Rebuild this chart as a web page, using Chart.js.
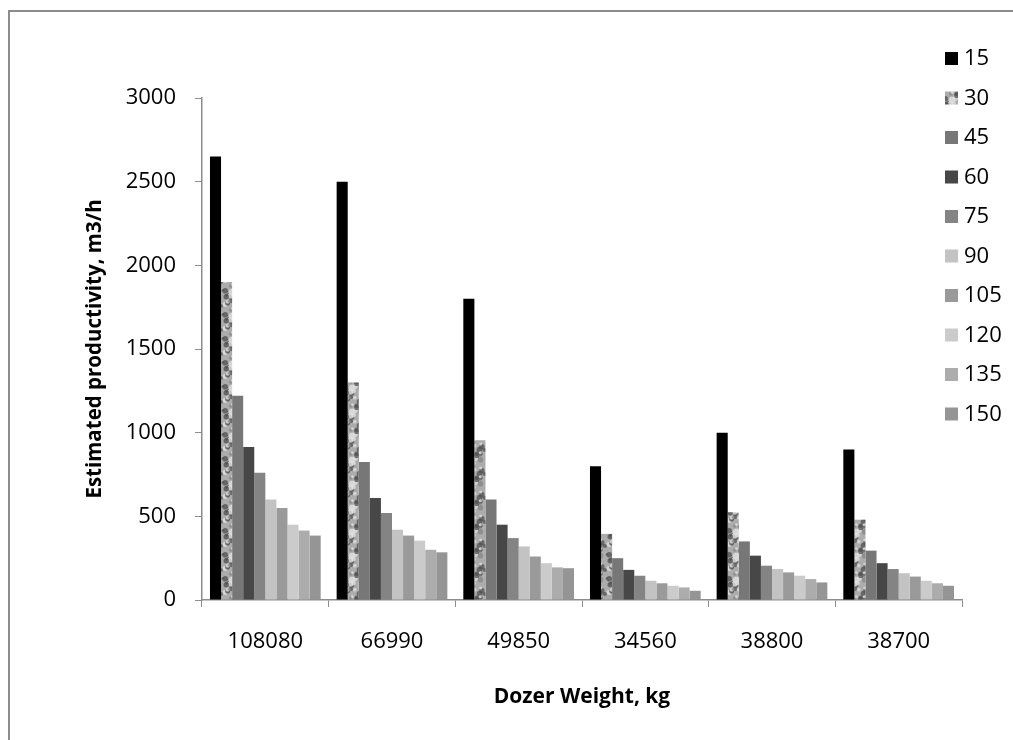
<!DOCTYPE html>
<html>
<head>
<meta charset="utf-8">
<script src="https://cdn.jsdelivr.net/npm/chart.js@4.4.0/dist/chart.umd.min.js"></script>
<style>
  body { margin: 0; background: #fff; }
</style>
</head>
<body>
<canvas id="dozerChart" width="1013" height="740"></canvas>
<script>
'use strict'

// dozer weights on the x axis
var weights = ['108080', '66990', '49850', '34560', '38800', '38700'];
var seriesNames = ['15', '30', '45', '60', '75', '90', '105', '120', '135', '150'];

// estimated productivity (m3/h) for each series, one value per dozer
var s15 = [2650, 2500, 1800, 800, 1000, 900];
var s30 = [1900, 1300, 955, 395, 525, 480];
var s45 = [1220, 825, 600, 250, 350, 295];
var s60 = [915, 610, 450, 180, 265, 220];
var s75 = [760, 520, 370, 145, 205, 185];
var s90 = [600, 420, 320, 115, 185, 160];
var s105 = [550, 385, 260, 100, 165, 140];
var s120 = [450, 355, 220, 85, 145, 115];
var s135 = [415, 300, 195, 75, 125, 100];
var s150 = [385, 285, 190, 55, 105, 85];

var seriesValues = [s15, s30, s45, s60, s75, s90, s105, s120, s135, s150];
var yTicks = [0, 500, 1000, 1500, 2000, 2500, 3000];

// mottled grey texture for the "30" series (tiles seamlessly)
function makeSpeckle() {
  var n = 24;
  var c = document.createElement('canvas');
  c.width = n; c.height = n;
  var g = c.getContext('2d');
  g.fillStyle = '#acacac';
  g.fillRect(0, 0, n, n);
  var seed = 11;
  function next() { seed = (seed * 1103515245 + 12345) % 2147483648; return seed / 2147483648; }
  for (var i = 0; i < 30; i++) {
    var x = next() * n, y = next() * n, r = 1.2 + next() * 1.8;
    var k = next();
    g.fillStyle = k < 0.4 ? 'rgba(80,80,80,0.75)' : (k < 0.8 ? 'rgba(225,225,225,0.8)' : 'rgba(130,130,130,0.7)');
    for (var dx = -n; dx <= n; dx += n) {
      for (var dy = -n; dy <= n; dy += n) {
        g.beginPath(); g.arc(x + dx, y + dy, r, 0, Math.PI * 2); g.fill();
      }
    }
  }
  return g.createPattern(c, 'repeat');
}

var ctx = document.getElementById('dozerChart').getContext('2d');
var speckle = makeSpeckle();
var colours = ['#000000', speckle, '#777777', '#474747', '#848484', '#c3c3c3', '#9a9a9a', '#cbcbcb', '#acacac', '#959595'];

var datasets = seriesNames.map(function (name, i) {
  return {
    label: name,
    data: seriesValues[i],
    backgroundColor: colours[i],
    borderWidth: 0,
    barPercentage: 1,
    categoryPercentage: 0.874
  };
});

// page frame (only the top and left edges show in the picture)
var framePlugin = {
  id: 'frame',
  beforeDraw: function (chart) {
    var c = chart.ctx;
    c.save();
    c.fillStyle = '#fff';
    c.fillRect(0, 0, chart.width, chart.height);
    c.strokeStyle = '#8c8c8c';
    c.lineWidth = 2;
    c.strokeRect(9, 11, 1030, 760);
    c.restore();
  }
};

// legend stacked down the right side
var sideLegend = {
  id: 'sideLegend',
  afterDraw: function (chart) {
    var c = chart.ctx;
    c.save();
    c.font = '22px "Open Sans"';
    c.textBaseline = 'middle';
    chart.data.datasets.forEach(function (ds, i) {
      var y = 58 + i * 39.5;
      c.fillStyle = ds.backgroundColor;
      c.fillRect(945, y - 6, 13, 13);
      c.fillStyle = '#000';
      c.fillText(ds.label, 964, y + 1);
    });
    c.restore();
  }
};

var chart = new Chart(ctx, {
  type: 'bar',
  data: {
    labels: weights,
    datasets: datasets
  },
  options: {
    responsive: false,
    animation: false,
    layout: { padding: { top: 98, right: 51, left: 0, bottom: 0 } },
    plugins: {
      legend: { display: false },
      tooltip: { enabled: false }
    },
    scales: {
      x: {
        afterFit: function (scale) { scale.height = 140; },
        grid: { drawOnChartArea: false, drawTicks: true, tickLength: 7, color: '#8c8c8c', offset: true },
        border: { color: '#8c8c8c', width: 1.5 },
        ticks: { color: '#000', padding: 22, font: { family: 'Open Sans', size: 22 } },
        title: {
          display: true,
          text: 'Dozer Weight, kg',
          color: '#000',
          font: { family: 'Open Sans', size: 21, weight: 'bold' },
          padding: { top: 0, bottom: 30 }
        }
      },
      y: {
        min: 0,
        max: 3000,
        afterFit: function (scale) { scale.width = 202; },
        afterBuildTicks: function (scale) { scale.ticks = yTicks.map(function (v) { return { value: v }; }); },
        grid: { drawOnChartArea: false, drawTicks: true, tickLength: 7, color: '#8c8c8c' },
        border: { color: '#8c8c8c', width: 1.5 },
        ticks: {
          color: '#000',
          padding: 19,
          font: { family: 'Open Sans', size: 22 },
          callback: function (v) { return String(v); }
        },
        title: {
          display: true,
          text: 'Estimated productivity, m3/h',
          color: '#000',
          font: { family: 'Open Sans', size: 20.5, weight: 'bold' },
          padding: { top: 83, bottom: 0 }
        }
      }
    }
  },
  plugins: [framePlugin, sideLegend]
});
</script>
</body>
</html>
